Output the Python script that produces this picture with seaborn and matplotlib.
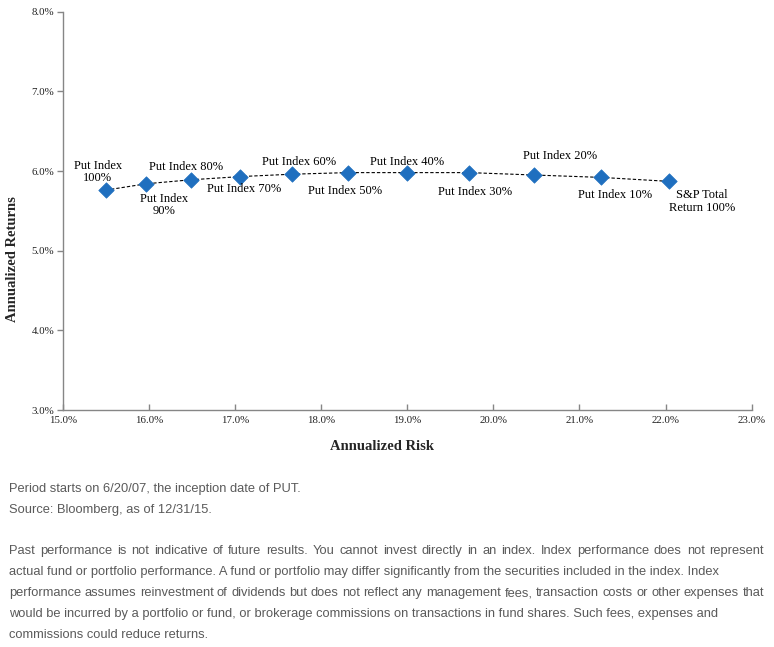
import matplotlib
matplotlib.use("Agg")
import matplotlib.pyplot as plt
import seaborn as sns
import pandas as pd
from matplotlib.ticker import FuncFormatter

# ---- data ----
labels = ["Put Index\n100%", "Put Index\n90%", "Put Index 80%", "Put Index 70%",
          "Put Index 60%", "Put Index 50%", "Put Index 40%", "Put Index 30%",
          "Put Index 20%", "Put Index 10%", "S&P Total\nReturn 100%"]
risk = [15.50, 15.97, 16.49, 17.06, 17.66, 18.31, 19.00, 19.72, 20.47, 21.25, 22.04]
returns = [5.76, 5.84, 5.89, 5.93, 5.96, 5.98, 5.98, 5.98, 5.95, 5.92, 5.87]

x_ticks = [15, 16, 17, 18, 19, 20, 21, 22, 23]
y_ticks = [3, 4, 5, 6, 7, 8]

footer_top = ["Period starts on 6/20/07, the inception date of PUT.",
              "Source: Bloomberg, as of 12/31/15."]
footer_body = [
    "Past performance is not indicative of future results. You cannot invest directly in an index. Index performance does not represent",
    "actual fund or portfolio performance. A fund or portfolio may differ significantly from the securities included in the index. Index",
    "performance assumes reinvestment of dividends but does not reflect any management fees, transaction costs or other expenses that",
    "would be incurred by a portfolio or fund, or brokerage commissions on transactions in fund shares. Such fees, expenses and",
    "commissions could reduce returns.",
]
justified = [True, False, True, False, False]

# label offsets in pixels (dx, dy) relative to each point
label_offsets = [(-8, 18), (18, -21), (-5, 13), (4, -12), (7, 12), (-3, -18),
                 (0, 11), (6, -19), (26, 19), (14, -18), (33, -20)]

df = pd.DataFrame({"risk": risk, "returns": returns, "label": labels})

sns.set_style("white")
plt.rcParams["font.family"] = ["Liberation Serif", "DejaVu Serif"]

W, H = 774, 647
fig = plt.figure(figsize=(W / 100, H / 100), dpi=100)
ax = fig.add_axes([62.7 / W, 1 - 410 / H, (751.7 - 62.7) / W, (410 - 11.7) / H])

sns.lineplot(data=df, x="risk", y="returns", ax=ax, color="black", lw=0.8,
             linestyle=(0, (3, 1.8)), sort=False, zorder=2)
sns.scatterplot(data=df, x="risk", y="returns", ax=ax, marker="D", s=62,
                color="#1f6fbf", edgecolor="#1f6fbf", linewidth=0.5, zorder=3)

for (xv, yv, lab), (dx, dy) in zip(zip(risk, returns, labels), label_offsets):
    ax.annotate(lab, (xv, yv), xytext=(dx, dy), textcoords="offset pixels",
                ha="center", va="center", multialignment="center",
                fontsize=9, color="black", linespacing=1.05,
                family=["Liberation Serif"])

ax.set_xlim(15, 23)
ax.set_ylim(3, 8)
ax.set_xticks(x_ticks)
ax.set_yticks(y_ticks)
ax.xaxis.set_major_formatter(FuncFormatter(lambda v, p: f"{v:.1f}%"))
ax.yaxis.set_major_formatter(FuncFormatter(lambda v, p: f"{v:.1f}%"))

for side in ["top", "right"]:
    ax.spines[side].set_visible(False)
for side in ["left", "bottom"]:
    ax.spines[side].set_color("#868686")
    ax.spines[side].set_linewidth(1.0)

ax.tick_params(axis="x", direction="in", length=4, width=1, color="#868686",
               labelsize=7.8, pad=4, labelcolor="#222222")
ax.tick_params(axis="y", direction="out", length=4, width=1, color="#868686",
               labelsize=7.8, pad=2, labelcolor="#222222")
ax.xaxis.set_ticks_position("bottom")
ax.yaxis.set_ticks_position("left")

ax.set_xlabel("Annualized Risk", fontsize=10.5, fontweight="bold")
ax.set_ylabel("Annualized Returns", fontsize=10.5, fontweight="bold")
ax.xaxis.set_label_coords((382 - 62.7) / 689, (410 - 446) / 398.3)
ax.yaxis.set_label_coords((12 - 62.7) / 689, (410 - 259) / 398.3)
ax.xaxis.label.set_va("center")
ax.yaxis.label.set_va("center")

# ---- footer ----
fkw = dict(fontsize=9.3, color="#5a5a5a", family=["Liberation Sans"], va="baseline")
left_px, right_px = 9, 764
for txt, base in zip(footer_top, [492, 513]):
    fig.text(left_px / W, 1 - base / H, txt, **fkw)

renderer = fig.canvas.get_renderer()
body_bases = [554, 575, 596, 617, 638]
for txt, base, just in zip(footer_body, body_bases, justified):
    y = 1 - base / H
    if not just:
        fig.text(left_px / W, y, txt, **fkw)
        continue
    words = txt.split(" ")
    widths = []
    for w in words:
        t = fig.text(0, 0, w, **fkw)
        widths.append(t.get_window_extent(renderer).width)
        t.remove()
    gap = (right_px - left_px - sum(widths)) / (len(words) - 1)
    xpos = left_px
    for w, wd in zip(words, widths):
        fig.text(xpos / W, y, w, **fkw)
        xpos += wd + gap

fig.savefig("out.png", dpi=100, facecolor="white")
